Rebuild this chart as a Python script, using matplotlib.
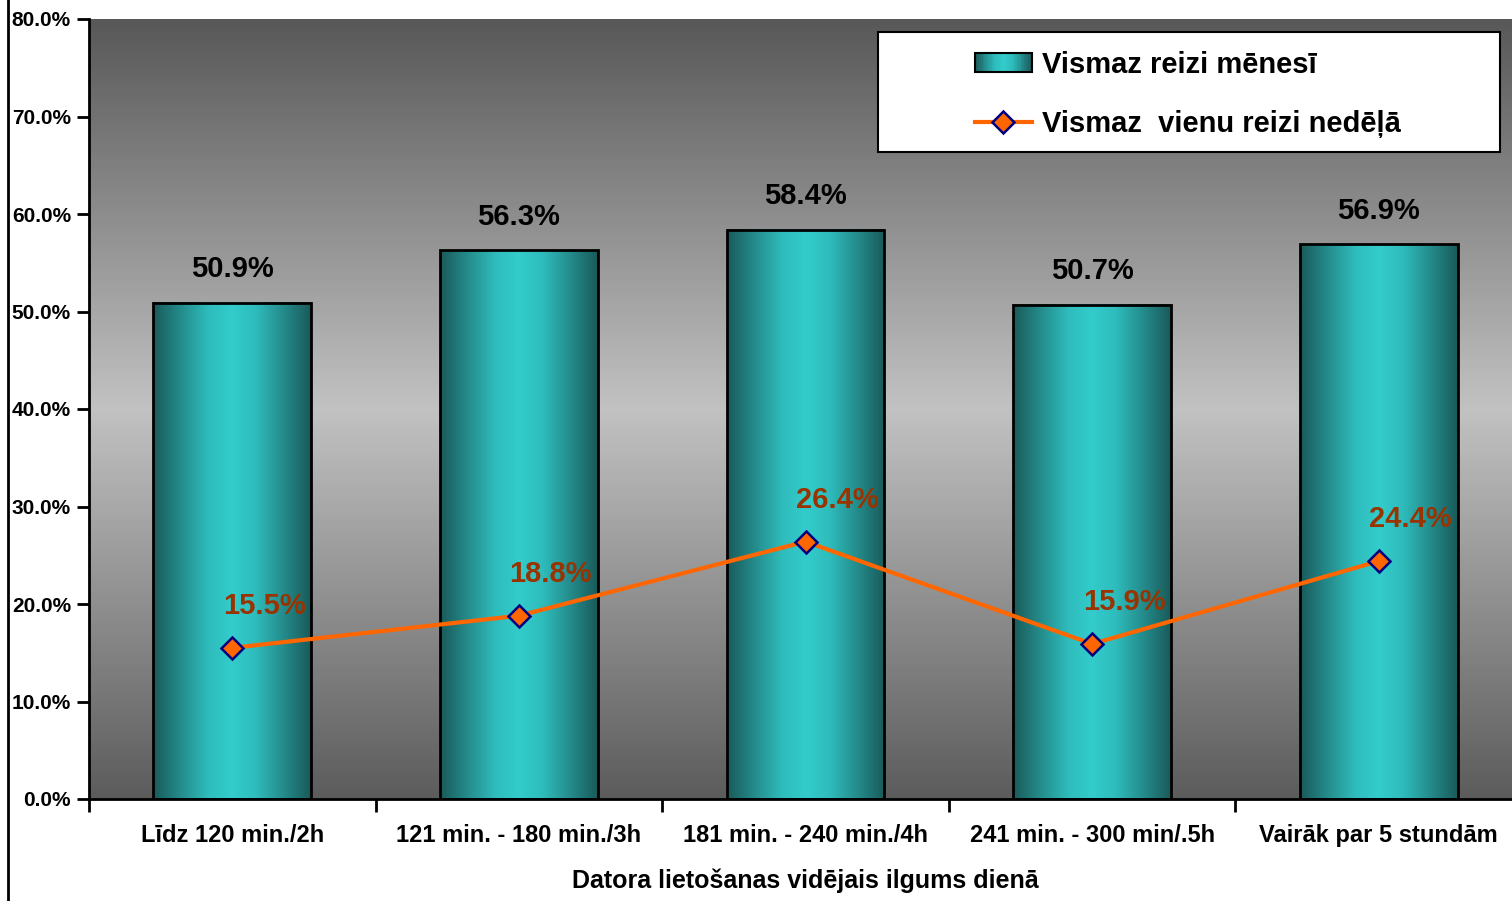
import numpy as np
import matplotlib
matplotlib.use("Agg")
import matplotlib.pyplot as plt
from matplotlib.colors import LinearSegmentedColormap
from matplotlib.patches import Rectangle
from matplotlib.lines import Line2D
from matplotlib.legend_handler import HandlerBase

plt.rcParams['font.family'] = ['Liberation Sans', 'DejaVu Sans']
plt.rcParams['font.weight'] = 'bold'

categories = ["Līdz 120 min./2h", "121 min. - 180 min./3h", "181 min. - 240 min./4h",
              "241 min. - 300 min/.5h", "Vairāk par 5 stundām"]
monthly = [50.9, 56.3, 58.4, 50.7, 56.9]
weekly = [15.5, 18.8, 26.4, 15.9, 24.4]
yticks = [0, 10, 20, 30, 40, 50, 60, 70, 80]
series_names = ["Vismaz reizi mēnesī", "Vismaz  vienu reizi nedēļā"]
xlabel = "Datora lietošanas vidējais ilgums dienā"

W, H = 1512, 901
fig = plt.figure(figsize=(W / 100, H / 100), dpi=100)
fig.patch.set_facecolor('white')
ax = fig.add_axes([89 / W, 1 - 799 / H, (1522 - 89) / W, (799 - 19) / H])

# background vertical gradient
bg_cmap = LinearSegmentedColormap.from_list(
    'bg', [(0, '#5c5c5c'), (0.5, '#c2c2c2'), (1, '#585858')])
grad = np.linspace(0, 1, 256).reshape(-1, 1)
ax.imshow(grad, cmap=bg_cmap, extent=[0, 1, 0, 1], transform=ax.transAxes,
          aspect='auto', zorder=0, origin='lower')

x = np.arange(len(categories))
bar_cmap = LinearSegmentedColormap.from_list(
    'bar', [(0, '#1a5a5a'), (0.15, '#238585'), (0.35, '#2fbcbc'), (0.5, '#33cccc'),
            (0.65, '#2fbcbc'), (0.85, '#238585'), (1, '#1a5a5a')])
hgrad = np.linspace(0, 1, 256).reshape(1, -1)
bars = ax.bar(x, monthly, width=0.55, facecolor='none', edgecolor='black',
              linewidth=2, zorder=3)
for b in bars:
    bx, bw, bh = b.get_x(), b.get_width(), b.get_height()
    ax.imshow(hgrad, cmap=bar_cmap, extent=[bx, bx + bw, 0, bh],
              aspect='auto', zorder=2)
for xi, v in zip(x, monthly):
    ax.annotate(f"{v:.1f}%", (xi, v), xytext=(0, 24), textcoords='offset points',
                ha='center', va='center', fontsize=21, fontweight='bold',
                color='black', zorder=6)

ax.plot(x, weekly, color='#ff6600', lw=3, marker='D', ms=11,
        mfc='#ff6600', mec='#000080', mew=1.8, zorder=4)
for xi, v in zip(x, weekly):
    ax.annotate(f"{v:.1f}%", (xi, v), xytext=(23, 30), textcoords='offset points',
                ha='center', va='center', fontsize=21, fontweight='bold',
                color='#993300', zorder=6)

ax.set_xlim(-0.5, len(categories) - 0.5)
ax.set_ylim(0, 80)
ax.set_yticks(yticks)
ax.set_yticklabels([f"{t:.1f}%" for t in yticks], fontsize=15, fontweight='bold')
ax.tick_params(axis='y', direction='out', length=9, width=2, pad=4)
ax.set_xticks(np.arange(-0.5, len(categories) - 0.4, 1), minor=True)
ax.tick_params(axis='x', which='minor', direction='out', length=9, width=2)
ax.set_xticks(x)
ax.set_xticklabels(categories, fontsize=17, fontweight='bold')
for s in ['top', 'right']:
    ax.spines[s].set_visible(False)
for s in ['left', 'bottom']:
    ax.spines[s].set_linewidth(2)
    ax.spines[s].set_zorder(5)
ax.xaxis.set_tick_params(which='major', length=0, pad=18)
ax.set_xlabel(xlabel, fontsize=18, fontweight='bold', va='center')
ax.xaxis.set_label_coords(0.5, -(881 - 799) / 780)

# left border line of the chart area
fig.add_artist(Line2D([8 / W, 8 / W], [0, 1], color='black', lw=2,
                      transform=fig.transFigure))


class GradientBarHandler(HandlerBase):
    def create_artists(self, legend, orig_handle, xdescent, ydescent, width,
                       height, fontsize, trans):
        arts = []
        n = 30
        for i in range(n):
            c = bar_cmap((i + 0.5) / n)
            arts.append(Rectangle((-xdescent + width * i / n, -ydescent), width / n,
                                  height, facecolor=c, edgecolor='none',
                                  transform=trans))
        arts.append(Rectangle((-xdescent, -ydescent), width, height,
                              facecolor='none', edgecolor='black', lw=1.5,
                              transform=trans))
        return arts


# legend frame
fig.add_artist(Rectangle((878 / W, 1 - 152 / H), (1500 - 878) / W, 120 / H,
                         facecolor='white', edgecolor='black', lw=1.5,
                         transform=fig.transFigure, zorder=7))
bar_handle = Rectangle((0, 0), 1, 1)
line_handle = Line2D([], [], color='#ff6600', lw=3, marker='D', ms=11,
                     mfc='#ff6600', mec='#000080', mew=1.8)
leg = fig.legend([bar_handle, line_handle], series_names,
                 handler_map={Rectangle: GradientBarHandler()},
                 loc='upper left', bbox_to_anchor=(975 / W, 1 - 51 / H),
                 frameon=False, borderpad=0, borderaxespad=0,
                 prop={'weight': 'bold', 'size': 21},
                 handlelength=1.95, handleheight=0.62, handletextpad=0.35,
                 labelspacing=1.05)
leg.set_zorder(8)

fig.savefig('out.png', dpi=100, facecolor='white')
